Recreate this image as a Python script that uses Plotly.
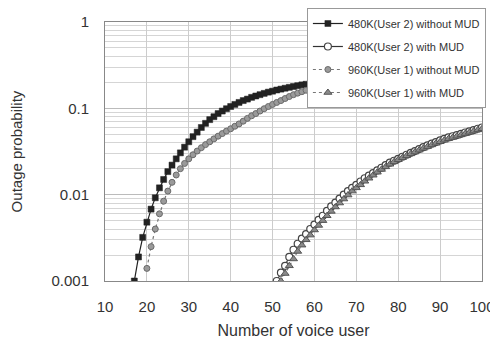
import plotly.graph_objects as go

# ---- data ----
users_480_no_mud = list(range(17, 63))
out_480_no_mud = [0.001, 0.0019, 0.0032, 0.0048, 0.0068, 0.0092, 0.012, 0.015, 0.0185, 0.022,
                  0.026, 0.0305, 0.0355, 0.041, 0.047, 0.053, 0.060, 0.067, 0.074, 0.080,
                  0.087, 0.093, 0.099, 0.105, 0.111, 0.117, 0.123, 0.128, 0.134, 0.139,
                  0.144, 0.149, 0.154, 0.158, 0.163, 0.167, 0.171, 0.175, 0.179, 0.183,
                  0.187, 0.190, 0.194, 0.197, 0.200, 0.203]

users_480_mud = list(range(51, 101))
out_480_mud = [0.001, 0.00125, 0.0015, 0.0019, 0.0023, 0.0027, 0.0031, 0.0035, 0.004, 0.0045,
               0.0051, 0.0057, 0.0065, 0.0073, 0.0081, 0.009, 0.010, 0.011, 0.012, 0.013,
               0.0142, 0.0155, 0.0166, 0.0178, 0.0191, 0.0205, 0.022, 0.0235, 0.0247, 0.026,
               0.0275, 0.029, 0.0305, 0.032, 0.0337, 0.0355, 0.0372, 0.039, 0.0407, 0.0425,
               0.0443, 0.046, 0.0475, 0.049, 0.0507, 0.0525, 0.0542, 0.056, 0.058, 0.060]

users_960_no_mud = list(range(20, 63))
out_960_no_mud = [0.0014, 0.0025, 0.004, 0.006, 0.0084, 0.011, 0.0139, 0.0169, 0.020, 0.023,
                  0.026, 0.029, 0.032, 0.035, 0.038, 0.041, 0.0443, 0.0476, 0.051, 0.0545,
                  0.058, 0.062, 0.066, 0.071, 0.0765, 0.082, 0.087, 0.093, 0.099, 0.105,
                  0.111, 0.117, 0.123, 0.130, 0.137, 0.144, 0.150, 0.156, 0.162, 0.168,
                  0.173, 0.178, 0.183]

users_960_mud = list(range(52, 101))
out_960_mud = [0.001, 0.00122, 0.0015, 0.0018, 0.0022, 0.0026, 0.003, 0.0034, 0.0039, 0.0044,
               0.005, 0.0057, 0.0064, 0.0072, 0.008, 0.0089, 0.0099, 0.011, 0.012, 0.013,
               0.0143, 0.0155, 0.0168, 0.0182, 0.0196, 0.021, 0.0225, 0.024, 0.0254, 0.0268,
               0.0282, 0.0297, 0.0312, 0.0328, 0.0344, 0.036, 0.0377, 0.0394, 0.041, 0.0427,
               0.0444, 0.046, 0.0476, 0.0493, 0.051, 0.0527, 0.0545, 0.0563, 0.058]

x_ticks = [10, 20, 30, 40, 50, 60, 70, 80, 90, 100]
y_ticks = [0.001, 0.01, 0.1, 1]
y_tick_text = ["0.001", "0.01", "0.1", "1"]
y_minor = [m * d for d in (0.001, 0.01, 0.1) for m in range(2, 10)]

FONT = "Liberation Sans, Arial, sans-serif"
TXT = "#333333"

fig = go.Figure()
fig.add_trace(go.Scatter(
    x=users_480_no_mud, y=out_480_no_mud, mode="lines+markers",
    name="480K(User 2) without MUD", legendgroup="a",
    line=dict(color="#222222", width=1.2),
    marker=dict(symbol="square", size=6, color="#222222", line=dict(color="#222222", width=0.5))))
fig.add_trace(go.Scatter(
    x=users_480_mud, y=out_480_mud, mode="lines+markers",
    name="480K(User 2) with MUD", legendgroup="b",
    line=dict(color="#333333", width=1.2),
    marker=dict(symbol="circle", size=7, color="white", line=dict(color="#444444", width=1.2))))
fig.add_trace(go.Scatter(
    x=users_960_no_mud, y=out_960_no_mud, mode="lines+markers",
    name="960K(User 1) without MUD", legendgroup="c",
    line=dict(color="#777777", width=1.2, dash="dot"),
    marker=dict(symbol="circle", size=6, color="#9a9a9a", line=dict(color="#6a6a6a", width=1))))
fig.add_trace(go.Scatter(
    x=users_960_mud, y=out_960_mud, mode="lines+markers",
    name="960K(User 1) with MUD", legendgroup="d",
    line=dict(color="#777777", width=1.2, dash="dot"),
    marker=dict(symbol="triangle-up", size=7, color="#8a8a8a", line=dict(color="#555555", width=1))))

fig.update_layout(
    width=490, height=331,
    margin=dict(l=97, r=16, t=14, b=58, autoexpand=False),
    paper_bgcolor="white", plot_bgcolor="white",
    font=dict(family=FONT, color=TXT, size=15),
    showlegend=True,
    legend=dict(xref="container", yref="container", x=0.61, y=1.0,
                xanchor="left", yanchor="top",
                bgcolor="white", bordercolor="#999999", borderwidth=1,
                font=dict(size=11, color=TXT), tracegroupgap=4,
                itemwidth=30),
)
fig.update_xaxes(
    range=[10, 100], tickvals=x_ticks, ticks="", showgrid=True, automargin=False,
    tickangle=0,
    gridcolor="#cccccc", gridwidth=1, zeroline=False,
    showline=True, mirror=True, linecolor="#888888", linewidth=1,
    tickfont=dict(size=15, color=TXT), ticklabelstandoff=12,
    title=dict(text="Number of voice user", font=dict(size=16, color=TXT)),
)
fig.update_yaxes(
    type="log", range=[-3, 0], tickvals=y_ticks, ticktext=y_tick_text, ticks="",
    showgrid=True, gridcolor="#bbbbbb", gridwidth=1, zeroline=False, automargin=False,
    minor=dict(tickvals=y_minor, showgrid=True, gridcolor="#d5d5d5", gridwidth=1, ticks=""),
    showline=True, mirror=True, linecolor="#888888", linewidth=1,
    tickfont=dict(size=15, color=TXT), ticklabelstandoff=12,
    title=dict(text="Outage probability", font=dict(size=15, color=TXT), standoff=26),
)

fig.write_html("out.html")
